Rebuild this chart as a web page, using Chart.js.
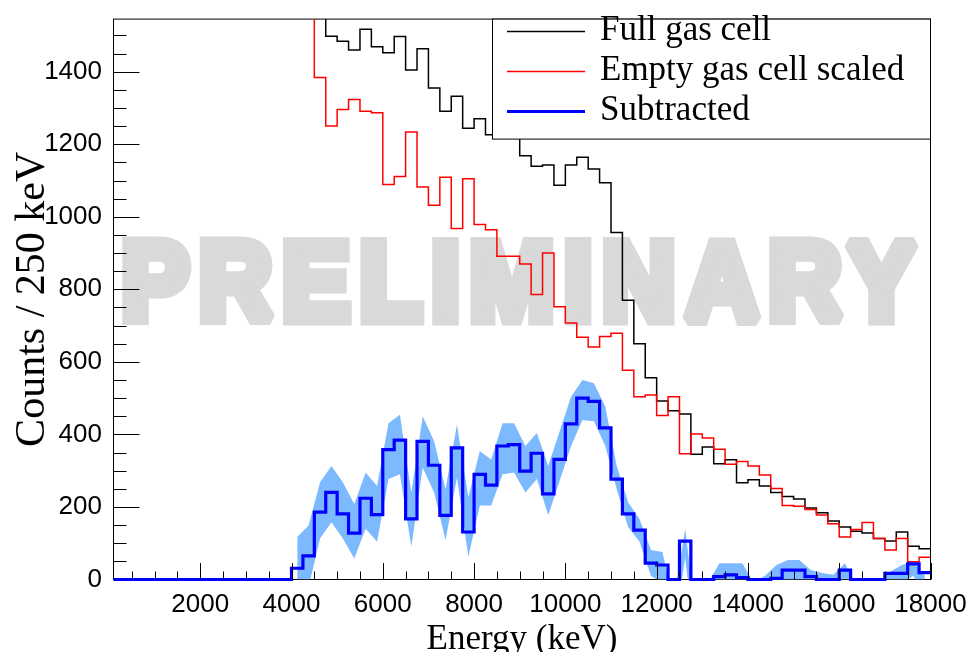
<!DOCTYPE html>
<html>
<head>
<meta charset="utf-8">
<script src="https://cdn.jsdelivr.net/npm/chart.js@4.4.0/dist/chart.umd.min.js"></script>
<style>
  html, body { margin: 0; padding: 0; background: #fff; }
  #wrap { width: 974px; height: 652px; }
</style>
</head>
<body>
<div id="wrap"><canvas id="chart" width="974" height="652"></canvas></div>
<script>
// 72 bins of 250 keV from 0 to 18000 keV
const binWidth = 250;

// first bins are far above the visible range
const fullGas = [
  6200, 5900, 5600, 5300, 5000, 4700, 4400, 4100, 3800, 3500, 3200, 2950, 2700, 2450, 2250, 2050, 1850, 1680,
  1570, 1498, 1484, 1460, 1517, 1469, 1452, 1497, 1405, 1463, 1355, 1291, 1332, 1244, 1270, 1226, 1257, 1263,
  1168, 1139, 1143, 1087, 1143, 1164, 1132, 1094, 957, 770, 650, 556, 492, 465, 456, 345,
  365, 319, 330, 267, 275, 258, 240, 229, 222, 197, 184, 161, 145, 133, 128, 113, 106, 131, 92, 85
];
const emptyScaled = [
  6100, 5800, 5500, 5200, 4900, 4600, 4300, 4000, 3700, 3400, 3100, 2850, 2600, 2380, 2180, 2000, 1819, 1615,
  1384, 1250, 1296, 1323, 1291, 1287, 1089, 1111, 1234, 1082, 1032, 1109, 968, 1105, 979, 964, 891, 891,
  870, 786, 900, 752, 707, 668, 641, 670, 679, 577, 504, 509, 452, 504, 347, 401,
  390, 359, 318, 325, 313, 288, 251, 204, 202, 193, 178, 154, 117, 138, 157, 113, 81, 113, 49, 61
];
const subtracted = [
  0, 0, 0, 0, 0, 0, 0, 0, 0, 0, 0, 0, 0, 0, 0, 0,
  31, 65, 186, 240, 181, 128, 224, 179, 358, 384, 167, 381, 315, 177, 363, 131, 290, 260, 368, 372,
  299, 348, 236, 331, 429, 500, 491, 418, 277, 181, 136, 45, 40, 0, 106, 0,
  0, 8, 13, 5, 0, 0, 3, 26, 26, 8, 0, 0, 26, 0, 0, 0, 17, 17, 43, 19
];
// error band of the subtracted spectrum, bins 16..71 (bin centres)
const bandFirstBin = 16;
const bandHigh = [
  117, 149, 268, 313, 268, 208, 295, 258, 431, 454, 240, 450, 381, 249, 427, 227, 354, 331, 431, 431,
  368, 404, 313, 409, 504, 550, 541, 477, 313, 213, 167, 81, 76, -60, 140, -120,
  -10, 45, 45, 45, -8, 10, 40, 54, 54, 26, 18, 13, 45, -20, -25, -5, 22, 40, 49, 10
];
const bandLow = [
  -55, -20, 113, 158, 113, 58, 140, 104, 277, 290, 90, 308, 240, 108, 281, 63, 204, 204, 290, 295,
  240, 277, 177, 272, 368, 440, 436, 368, 249, 145, 104, 10, -10, -150, 60, -210,
  -90, -35, -35, -35, -88, -70, -40, -10, -10, -50, -60, -60, 5, -90, -100, -80, -40, -10, 10, -50
];

const xLabels = [2000, 4000, 6000, 8000, 10000, 12000, 14000, 16000, 18000];
const yLabels = [0, 200, 400, 600, 800, 1000, 1200, 1400];
const xMinorStep = 500;
const yMinorStep = 50;
const legendLabels = ['Full gas cell', 'Empty gas cell scaled', 'Subtracted'];
const watermark = 'PRELIMINARY';

// histogram as points on bin centres, drawn with 'middle' steps so the jumps land on bin edges
function histPoints(values) {
  const pts = [{ x: 0, y: values[0] }];
  values.forEach((v, i) => pts.push({ x: i * binWidth + binWidth / 2, y: v }));
  pts.push({ x: values.length * binWidth, y: values[values.length - 1] });
  return pts;
}
function bandPoints(values) {
  return values.map((v, k) => ({ x: (bandFirstBin + k) * binWidth + binWidth / 2, y: v }));
}

const rootStyle = {
  id: 'rootStyle',
  beforeDraw(chart) {
    const { ctx } = chart;
    ctx.save();
    ctx.fillStyle = '#fff';
    ctx.fillRect(0, 0, chart.width, chart.height);
    // heavy grey watermark: bold face plus an outline to thicken the strokes
    const lw = 13;
    ctx.font = 'bold 110px "Liberation Sans"';
    ctx.letterSpacing = '11px';
    const m = ctx.measureText(watermark);
    const ink = m.actualBoundingBoxLeft + m.actualBoundingBoxRight + lw;
    ctx.translate(122, 325 - lw / 2);
    ctx.scale(798 / ink, 1);
    ctx.fillStyle = '#d9d9d9';
    ctx.strokeStyle = '#d9d9d9';
    ctx.lineWidth = lw;
    ctx.lineJoin = 'miter';
    ctx.miterLimit = 1.5;
    ctx.fillText(watermark, m.actualBoundingBoxLeft + lw / 2, 0);
    ctx.strokeText(watermark, m.actualBoundingBoxLeft + lw / 2, 0);
    ctx.restore();
  },
  beforeDatasetsDraw(chart) {
    const { ctx, chartArea: a } = chart;
    ctx.save();
    ctx.strokeStyle = '#000';
    ctx.lineWidth = 1;
    ctx.strokeRect(a.left, a.top, a.right - a.left, a.bottom - a.top);
    ctx.restore();
  },
  afterDatasetsDraw(chart) {
    const { ctx, chartArea: a, scales } = chart;
    ctx.save();
    ctx.strokeStyle = '#000';
    ctx.lineWidth = 1;
    ctx.beginPath();
    // x ticks, pointing into the frame
    for (let v = xMinorStep; v <= scales.x.max; v += xMinorStep) {
      const px = Math.round(scales.x.getPixelForValue(v)) + 0.5;
      const len = v % 2000 === 0 ? 16.5 : 8;
      ctx.moveTo(px, a.bottom);
      ctx.lineTo(px, a.bottom - len);
    }
    // y ticks
    for (let v = yMinorStep; v <= scales.y.max; v += yMinorStep) {
      const py = Math.round(scales.y.getPixelForValue(v)) + 0.5;
      const len = v % 200 === 0 ? 26 : 13;
      ctx.moveTo(a.left, py);
      ctx.lineTo(a.left + len, py);
    }
    ctx.stroke();

    // legend box
    const bx = 492.5, by = a.top, bw = a.right - 492.5, bh = 120;
    ctx.fillStyle = '#fff';
    ctx.fillRect(bx, by, bw, bh);
    ctx.strokeRect(bx, by, bw, bh);
    const entries = [chart.data.datasets[2], chart.data.datasets[1], chart.data.datasets[0]];
    ctx.font = '35px "Liberation Serif"';
    ctx.textBaseline = 'alphabetic';
    entries.forEach((ds, i) => {
      const ly = 31.5 + i * 40;
      ctx.strokeStyle = ds.borderColor;
      ctx.lineWidth = ds.borderWidth;
      ctx.beginPath();
      ctx.moveTo(507, ly);
      ctx.lineTo(585, ly);
      ctx.stroke();
      ctx.fillStyle = '#000';
      ctx.fillText(legendLabels[i], 600, ly + 8);
    });
    ctx.restore();
  }
};

new Chart(document.getElementById('chart'), {
  type: 'line',
  data: {
    datasets: [
      {
        label: 'Subtracted',
        data: histPoints(subtracted),
        borderColor: '#0000ff',
        borderWidth: 3.2,
        stepped: 'middle',
        pointRadius: 0,
        fill: false,
        clip: { left: 0, top: 0, right: 0, bottom: 3 }
      },
      {
        label: 'Empty gas cell scaled',
        data: histPoints(emptyScaled),
        borderColor: '#ff0000',
        borderWidth: 1.5,
        stepped: 'middle',
        pointRadius: 0,
        fill: false
      },
      {
        label: 'Full gas cell',
        data: histPoints(fullGas),
        borderColor: '#000000',
        borderWidth: 1.5,
        stepped: 'middle',
        pointRadius: 0,
        fill: false
      },
      {
        label: 'band high',
        data: bandPoints(bandHigh),
        borderColor: 'rgba(0,0,0,0)',
        borderWidth: 1,
        backgroundColor: 'rgb(125,185,255)',
        pointRadius: 0,
        tension: 0,
        fill: '+1'
      },
      {
        label: 'band low',
        data: bandPoints(bandLow),
        borderColor: 'rgba(0,0,0,0)',
        borderWidth: 1,
        pointRadius: 0,
        tension: 0,
        fill: false
      }
    ]
  },
  options: {
    responsive: false,
    animation: false,
    layout: { padding: { top: 11.5, right: 43.5, left: 0, bottom: 0 } },
    plugins: {
      legend: { display: false },
      tooltip: { enabled: false }
    },
    scales: {
      x: {
        type: 'linear',
        min: 100,
        max: 18000,
        afterBuildTicks: s => { s.ticks = xLabels.map(v => ({ value: v })); },
        afterFit: s => { s.height = 72.5; },
        grid: { display: false },
        border: { display: false },
        ticks: {
          autoSkip: false,
          maxRotation: 0,
          padding: 2,
          color: '#000',
          font: { family: 'Liberation Sans', size: 26 },
          callback: v => String(v)
        },
        title: {
          display: true,
          text: 'Energy (keV)',
          color: '#000',
          font: { family: 'Liberation Serif', size: 35, lineHeight: 0.7 },
          padding: { top: 0, bottom: 0 }
        }
      },
      y: {
        type: 'linear',
        min: 0,
        max: 1545,
        afterBuildTicks: s => { s.ticks = yLabels.map(v => ({ value: v })); },
        afterFit: s => { s.width = 113.5; },
        grid: { display: false },
        border: { display: false },
        ticks: {
          padding: 3.5,
          color: '#000',
          font: { family: 'Liberation Sans', size: 26 },
          callback: v => String(v)
        },
        title: {
          display: true,
          text: 'Counts / 250 keV',
          color: '#000',
          font: { family: 'Liberation Serif', size: 42, lineHeight: 1.2 },
          padding: { top: 8, bottom: 0 }
        }
      }
    }
  },
  plugins: [rootStyle]
});
</script>
</body>
</html>
